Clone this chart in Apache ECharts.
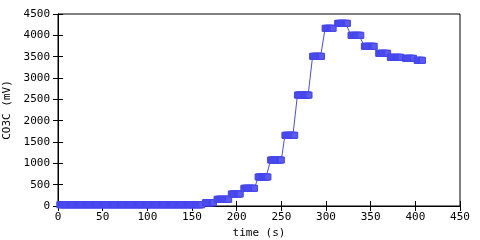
<!DOCTYPE html>
<html>
<head>
<meta charset="utf-8">
<script src="https://cdn.jsdelivr.net/npm/echarts@6/dist/echarts.min.js"></script>
<style>html,body{margin:0;padding:0;background:#fff;}#c{width:480px;height:240px;}</style>
</head>
<body>
<div id="c"></div>
<script>
var plateauStart = [2, 165, 178, 194, 208, 224, 238, 254, 268, 285, 299, 313, 328, 343, 359, 372, 389, 402];
var plateauEnd   = [161, 174, 191, 204, 220, 235, 250, 265, 281, 295, 308, 324, 339, 354, 369, 384, 398, 408];
var plateauValue = [30, 77, 157, 281, 415, 680, 1078, 1657, 2600, 3508, 4164, 4281, 4000, 3742, 3578, 3484, 3461, 3414];
var xTicks = [0, 50, 100, 150, 200, 250, 300, 350, 400, 450];
var yTicks = [0, 500, 1000, 1500, 2000, 2500, 3000, 3500, 4000, 4500];

// logger samples once per second within each plateau
var samples = [];
for (var i = 0; i < plateauValue.length; i++) {
  for (var t = plateauStart[i]; t <= plateauEnd[i]; t++) {
    samples.push([t, plateauValue[i]]);
  }
}

var font = 'DejaVu Sans Mono';
var plain = function (v) { return String(v); };
var chart = echarts.init(document.getElementById('c'), null, {renderer: 'canvas'});
var axisCommon = {
  axisLine: {show: true, lineStyle: {color: '#000', width: 1}},
  axisTick: {show: true, inside: true, length: 5, lineStyle: {color: '#000'}},
  splitLine: {show: false}
};
chart.setOption({
  animation: false,
  backgroundColor: '#fff',
  grid: {left: 58, right: 20, top: 14, bottom: 34, containLabel: false, outerBoundsMode: 'none',
         show: true, borderColor: '#000', borderWidth: 1},
  xAxis: [
    Object.assign({
      type: 'value', min: xTicks[0], max: xTicks[xTicks.length - 1], interval: xTicks[1] - xTicks[0],
      position: 'bottom',
      name: 'time (s)', nameLocation: 'middle', nameGap: 21,
      nameTextStyle: {fontFamily: font, fontSize: 11, color: '#000'},
      axisLabel: {fontFamily: font, fontSize: 11, color: '#000', margin: 6, formatter: plain}
    }, axisCommon),
    Object.assign({
      type: 'value', min: xTicks[0], max: xTicks[xTicks.length - 1], interval: xTicks[1] - xTicks[0],
      position: 'top', axisLabel: {show: false}
    }, axisCommon)
  ],
  yAxis: [
    Object.assign({
      type: 'value', min: yTicks[0], max: yTicks[yTicks.length - 1], interval: yTicks[1] - yTicks[0],
      position: 'left',
      name: 'CO3C (mV)', nameLocation: 'middle', nameGap: 40,
      nameTextStyle: {fontFamily: font, fontSize: 11, color: '#000'},
      axisLabel: {fontFamily: font, fontSize: 11, color: '#000', margin: 8, formatter: plain}
    }, axisCommon),
    Object.assign({
      type: 'value', min: yTicks[0], max: yTicks[yTicks.length - 1], interval: yTicks[1] - yTicks[0],
      position: 'right', axisLabel: {show: false}
    }, axisCommon)
  ],
  series: [{
    type: 'line',
    data: samples,
    xAxisIndex: 0, yAxisIndex: 0,
    showSymbol: true,
    showAllSymbol: true,
    symbol: 'rect',
    symbolSize: [6, 6],
    itemStyle: {color: '#5a5af0', borderColor: '#4646ee', borderWidth: 1},
    lineStyle: {color: '#4b4bf0', width: 1},
    clip: false
  }]
});
</script>
</body>
</html>
